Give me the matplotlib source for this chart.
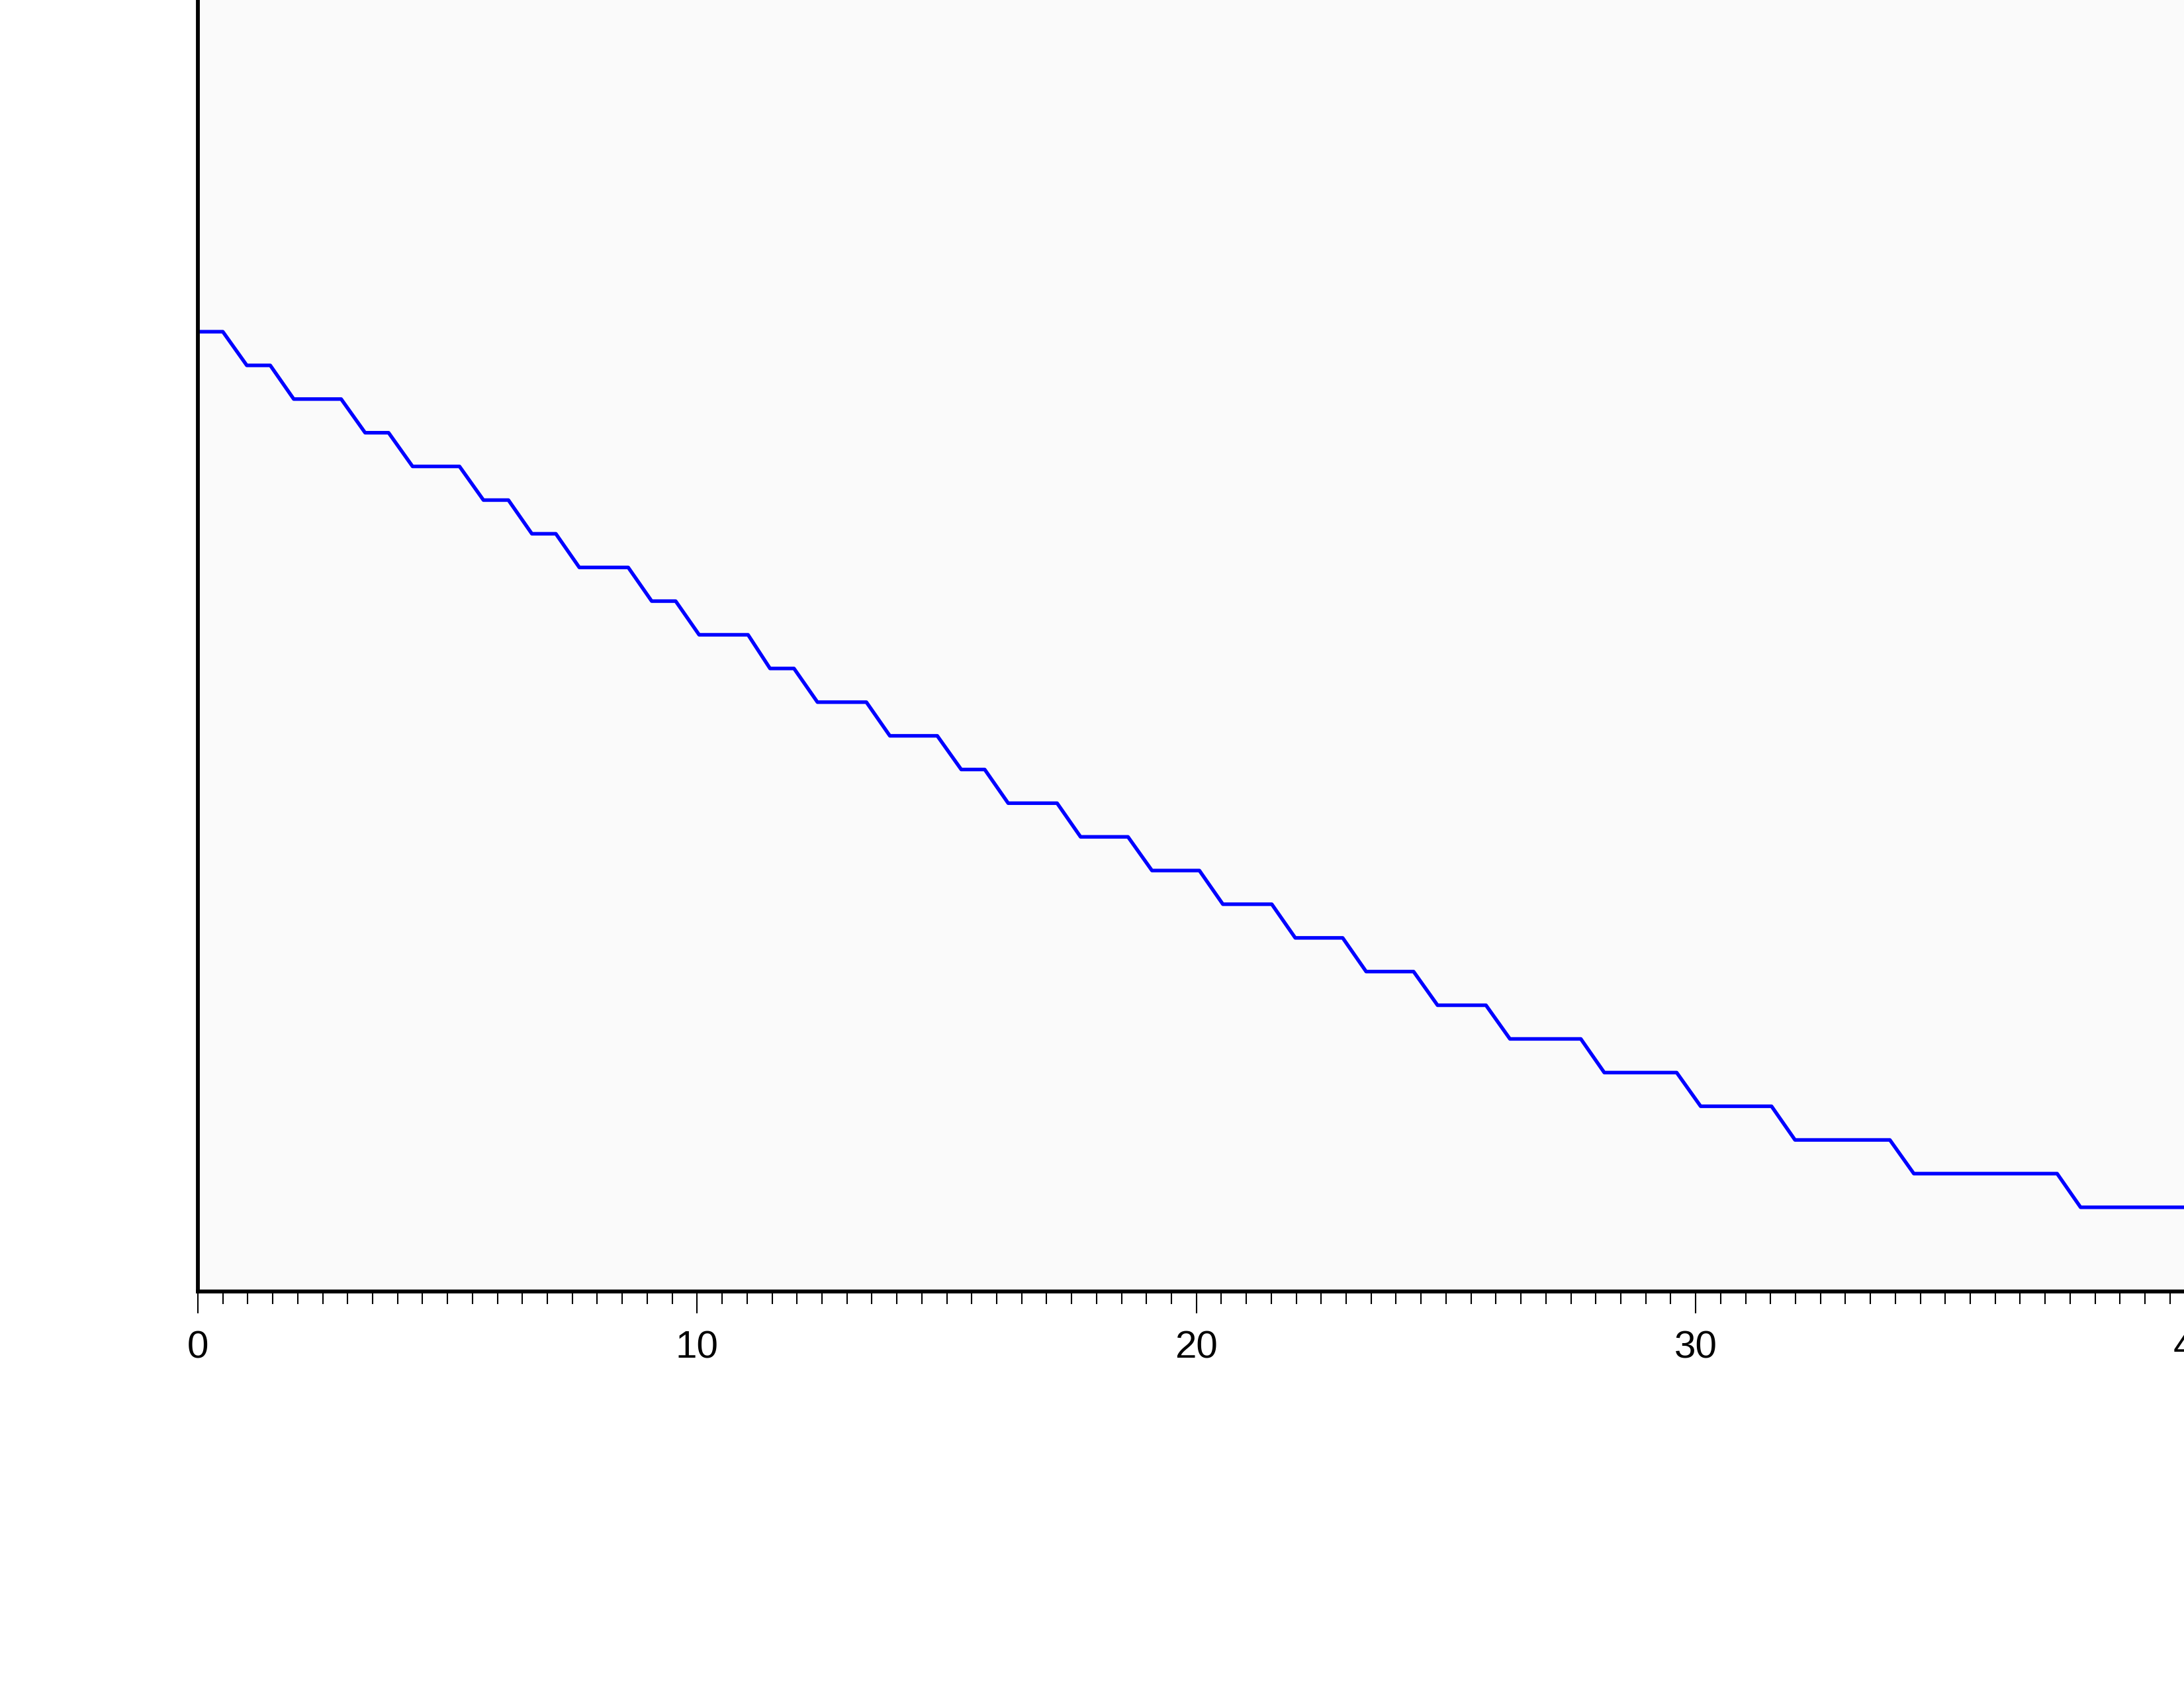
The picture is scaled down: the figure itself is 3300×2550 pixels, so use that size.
import matplotlib
matplotlib.use('Agg')
import matplotlib.pyplot as plt
from matplotlib.ticker import MultipleLocator

# Staircase vertices (x, y)
xs = [0, 0.50, 0.98, 1.45, 1.92, 2.87, 3.35, 3.82, 4.30, 5.24,
      5.72, 6.22, 6.69, 7.17, 7.64, 8.62, 9.09, 9.57, 10.04, 11.02,
      11.46, 11.94, 12.41, 13.39, 13.86, 14.81, 15.29, 15.76, 16.23, 17.21,
      17.68, 18.63, 19.11, 20.06, 20.53, 21.51, 21.98, 22.93, 23.40, 24.35,
      24.83, 25.80, 26.28, 27.70, 28.17, 29.62, 30.10, 31.52, 31.99, 33.89,
      34.37, 37.24, 37.71, 41]
ys = [28, 28, 27, 27, 26, 26, 25, 25, 24, 24,
      23, 23, 22, 22, 21, 21, 20, 20, 19, 19,
      18, 18, 17, 17, 16, 16, 15, 15, 14, 14,
      13, 13, 12, 12, 11, 11, 10, 10, 9, 9,
      8, 8, 7, 7, 6, 6, 5, 5, 4, 4,
      3, 3, 2, 2]
xticks = [0, 10, 20, 30, 40]

plt.rcParams['font.family'] = ['Liberation Sans', 'DejaVu Sans']

fig = plt.figure(figsize=(11, 8.5), dpi=300)
# axes run past the top and right edge of the figure, as in the reference
axs = fig.add_axes([0.0906, 0.2349, 1.143, 0.808])
axs.set_facecolor('#fafafa')

axs.plot(xs, ys, color='#0000ff', linewidth=1.3)

axs.set_xlim(0, 50)
axs.set_ylim(-0.5, 40)

axs.set_xticks(xticks)
axs.xaxis.set_minor_locator(MultipleLocator(0.5))
axs.tick_params(axis='x', which='major', direction='out', length=8, width=0.5,
                pad=6, labelsize=14, colors='black')
axs.tick_params(axis='x', which='minor', direction='out', length=4.5, width=0.5)
axs.set_yticks([])

for side in ['left', 'bottom', 'top', 'right']:
    axs.spines[side].set_linewidth(1.4)
    axs.spines[side].set_color('black')

fig.savefig('out.png', dpi=300)
